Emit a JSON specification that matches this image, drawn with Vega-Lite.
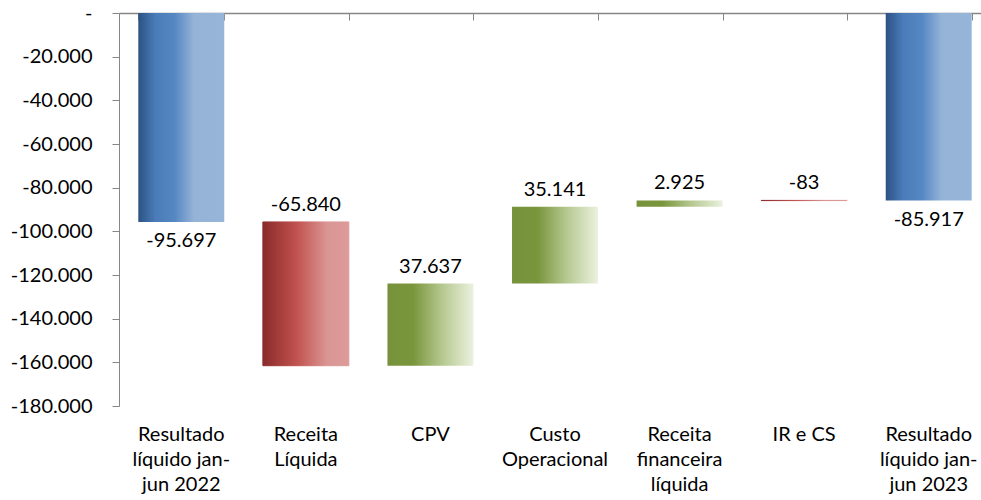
{
  "$schema": "https://vega.github.io/schema/vega-lite/v6.json",
  "autosize": "none",
  "width": 862,
  "height": 393,
  "padding": {"left": 119, "top": 13, "right": 0, "bottom": 94},
  "background": "white",
  "config": {
    "view": {"stroke": null},
    "font": "Lato",
    "locale": {"number": {"decimal": ",", "thousands": ".", "grouping": [3], "currency": ["R$", ""], "minus": "-"}}
  },
  "data": {
    "values": [
      {"cat": "Resultado|líquido jan-|jun 2022", "start": 0, "end": -95697, "label": "-95.697", "type": "total"},
      {"cat": "Receita|Líquida", "start": -95697, "end": -161537, "label": "-65.840", "type": "neg"},
      {"cat": "CPV", "start": -161537, "end": -123900, "label": "37.637", "type": "pos"},
      {"cat": "Custo|Operacional", "start": -123900, "end": -88759, "label": "35.141", "type": "pos"},
      {"cat": "Receita|financeira|líquida", "start": -88759, "end": -85834, "label": "2.925", "type": "pos"},
      {"cat": "IR e CS", "start": -85834, "end": -85917, "label": "-83", "type": "neg"},
      {"cat": "Resultado|líquido jan-|jun 2023", "start": 0, "end": -85917, "label": "-85.917", "type": "total"}
    ]
  },
  "encoding": {
    "x": {
      "field": "cat", "type": "nominal",
      "sort": ["Resultado|líquido jan-|jun 2022", "Receita|Líquida", "CPV", "Custo|Operacional", "Receita|financeira|líquida", "IR e CS", "Resultado|líquido jan-|jun 2023"],
      "scale": {"range": [0, 872], "paddingInner": 0.31, "paddingOuter": 0.155},
      "axis": null
    }
  },
  "layer": [
    {
      "transform": [{"filter": "datum.type == 'total'"}],
      "mark": {
        "type": "bar",
        "color": {"gradient": "linear", "x1": 0, "y1": 0, "x2": 1, "y2": 0,
          "stops": [
            {"offset": 0, "color": "#2c5283"},
            {"offset": 0.2, "color": "#4a7cb9"},
            {"offset": 0.42, "color": "#5587c3"},
            {"offset": 0.65, "color": "#95b3d7"},
            {"offset": 1, "color": "#97b5d9"}
          ]}
      },
      "encoding": {
        "x": {
          "field": "cat", "type": "nominal",
          "sort": ["Resultado|líquido jan-|jun 2022", "Receita|Líquida", "CPV", "Custo|Operacional", "Receita|financeira|líquida", "IR e CS", "Resultado|líquido jan-|jun 2023"],
          "axis": {
            "orient": "bottom", "title": null, "domain": false, "ticks": false,
            "labelAngle": 0, "labelFont": "Lato", "labelFontSize": 20, "labelFontWeight": "normal", "labelColor": "black",
            "labelPadding": 18, "labelLineHeight": 25, "labelBaseline": "top",
            "labelExpr": "split(datum.label, '|')", "labelLimit": 200
          }
        },
        "y": {
          "field": "start", "type": "quantitative",
          "scale": {"domain": [-180000, 0], "nice": false, "zero": false},
          "axis": {
            "title": null, "grid": false, "values": [0, -20000, -40000, -60000, -80000, -100000, -120000, -140000, -160000, -180000],
            "labelExpr": "datum.value == 0 ? '-' : format(datum.value, ',.0f')",
            "labelFont": "Lato", "labelFontSize": 20, "labelFontWeight": "normal", "labelColor": "black",
            "tickSize": 7, "labelPadding": 20, "domainColor": "#868686", "tickColor": "#868686"
          }
        },
        "y2": {"field": "end"}
      }
    },
    {
      "transform": [{"filter": "datum.type == 'neg'"}],
      "mark": {
        "type": "bar", "strokeWidth": 1,
        "color": {"gradient": "linear", "x1": 0, "y1": 0, "x2": 1, "y2": 0,
          "stops": [
            {"offset": 0, "color": "#8a2b2b"},
            {"offset": 0.38, "color": "#c0504d"},
            {"offset": 0.75, "color": "#da9694"},
            {"offset": 1, "color": "#dc9a98"}
          ]},
        "stroke": {"gradient": "linear", "x1": 0, "y1": 0, "x2": 1, "y2": 0,
          "stops": [
            {"offset": 0, "color": "#8a2b2b"},
            {"offset": 0.38, "color": "#c0504d"},
            {"offset": 0.75, "color": "#da9694"},
            {"offset": 1, "color": "#dc9a98"}
          ]}
      },
      "encoding": {
        "y": {"field": "start", "type": "quantitative"},
        "y2": {"field": "end"}
      }
    },
    {
      "transform": [{"filter": "datum.type == 'pos'"}],
      "mark": {
        "type": "bar",
        "color": {"gradient": "linear", "x1": 0, "y1": 0, "x2": 1, "y2": 0,
          "stops": [
            {"offset": 0, "color": "#76923b"},
            {"offset": 0.3, "color": "#7a963d"},
            {"offset": 0.65, "color": "#b8ca93"},
            {"offset": 1, "color": "#ebf1de"}
          ]}
      },
      "encoding": {
        "y": {"field": "start", "type": "quantitative"},
        "y2": {"field": "end"}
      }
    },
    {
      "transform": [{"filter": "datum.type == 'total'"}],
      "mark": {"type": "text", "baseline": "top", "dy": 9, "fontSize": 20, "font": "Lato", "color": "black"},
      "encoding": {"y": {"field": "end", "type": "quantitative"}, "text": {"field": "label"}}
    },
    {
      "transform": [{"filter": "datum.type == 'neg'"}],
      "mark": {"type": "text", "baseline": "bottom", "dy": -7, "fontSize": 20, "font": "Lato", "color": "black"},
      "encoding": {"y": {"field": "start", "type": "quantitative"}, "text": {"field": "label"}}
    },
    {
      "transform": [{"filter": "datum.type == 'pos'"}],
      "mark": {"type": "text", "baseline": "bottom", "dy": -7, "fontSize": 20, "font": "Lato", "color": "black"},
      "encoding": {"y": {"field": "end", "type": "quantitative"}, "text": {"field": "label"}}
    },
    {
      "mark": {"type": "rule", "opacity": 0},
      "encoding": {
        "x": {
          "field": "cat", "type": "nominal",
          "sort": ["Resultado|líquido jan-|jun 2022", "Receita|Líquida", "CPV", "Custo|Operacional", "Receita|financeira|líquida", "IR e CS", "Resultado|líquido jan-|jun 2023"],
          "axis": {
            "orient": "top", "title": null, "labels": false, "tickBand": "extent",
            "tickSize": -7, "domainColor": "#868686", "tickColor": "#868686", "domainWidth": 1.5
          }
        }
      }
    }
  ],
  "resolve": {"axis": {"x": "independent"}}
}
